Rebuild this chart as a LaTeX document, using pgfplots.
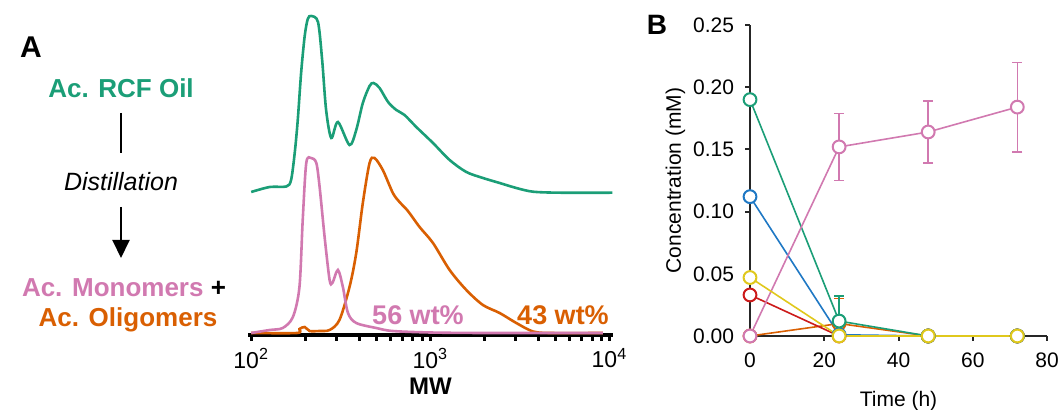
\documentclass[border=0pt]{standalone}
\usepackage{fontspec}
\setmainfont{Liberation Sans}
\usepackage{pgfplots}
\pgfplotsset{compat=1.18}
\usetikzlibrary{arrows.meta}

\definecolor{cgreen}{HTML}{1B9E77}
\definecolor{corange}{HTML}{D95F02}
\definecolor{cpink}{HTML}{D179B0}
\definecolor{cblue}{HTML}{1F78C4}
\definecolor{cred}{HTML}{CC1A1A}
\definecolor{cyellow}{HTML}{E0C81C}

\begin{document}
\begin{tikzpicture}
\useasboundingbox (0,0) rectangle (529pt,205pt);

% left-hand scheme
\node[font=\fontsize{15}{15}\selectfont\bfseries] at (15.5pt,181.5pt) {A};
\node[font=\fontsize{13}{13}\selectfont\bfseries, text=cgreen] at (60.5pt,161pt) {Ac. RCF Oil};
\draw[line width=1pt] (60.5pt,148.5pt) -- (60.5pt,128.5pt);
\node[font=\fontsize{12.5}{13}\selectfont\itshape] at (60.5pt,114pt) {Distillation};
\draw[line width=1pt, -{Triangle[width=8.5pt,length=9pt]}] (60.5pt,101.5pt) -- (60.5pt,76pt);
\node[font=\fontsize{13}{13}\selectfont\bfseries] at (62pt,61pt) {\textcolor{cpink}{Ac. Monomers} +};
\node[font=\fontsize{13}{13}\selectfont\bfseries, text=corange] at (64pt,45pt) {Ac. Oligomers};

% panel A: GPC traces
\begin{axis}[
  scale only axis,
  at={(124pt,37.5pt)}, anchor=south west,
  width=182.5pt, height=161pt,
  xmode=log, xmin=96, xmax=10470, ymin=-2, ymax=320,
  axis x line*=bottom, hide y axis,
  axis line style={line width=2pt, black},
  xtick={100,1000,10000},
  xticklabels={10\textsuperscript{2},10\textsuperscript{3},10\textsuperscript{4}},
  minor xtick={200,300,400,500,600,700,800,900,2000,3000,4000,5000,6000,7000,8000,9000},
  tick align=outside, major tick length=3pt, minor tick length=3pt,
  tick style={line width=1.5pt, black},
  xticklabel style={font=\fontsize{11.5}{12}\selectfont},
  xlabel={MW},
  xlabel style={font=\fontsize{12}{12}\selectfont\bfseries, yshift=2pt},
  clip=false,
]
\addplot[cgreen, line width=1.3pt, smooth] coordinates {
  (100,141) (127,146) (157,146.5) (167,153) (175,180) (182,213) (190,260)
  (199,297) (207,314) (216,317) (236,311) (249,273) (262,223) (280,195)
  (305,211) (354,188) (386,203) (420,230) (458,247) (482,250) (521,245)
  (581,231) (646,223) (718,218) (835,206) (1035,190) (1282,173) (1589,161)
  (1967,155) (2438,150) (3020,145) (3742,141.3) (5272,140.3) (10400,140.3)
};
\addplot[corange, line width=1.3pt, smooth] coordinates {
  (100,0) (180,0) (186,4) (199,6) (212,2) (240,2) (274,3) (311,13) (354,46)
  (386,80) (420,130) (458,170) (488,175) (543,163) (618,140) (673,131)
  (750,122) (871,106) (1035,90) (1282,63) (1589,43) (1967,28) (2438,20)
  (3020,10) (3742,1.5) (4643,0) (9200,0)
};
\addplot[cpink, line width=1.3pt, smooth] coordinates {
  (100,0) (127,3) (150,5) (171,16) (186,46) (194,113) (203,170) (216,175)
  (231,170) (241,146) (257,96) (274,53) (284,50) (305,63) (325,46) (347,20)
  (386,10) (499,5) (615,2) (1000,0.5) (2000,0) (9200,0)
};
\end{axis}

\node[font=\fontsize{13.5}{14}\selectfont\bfseries, text=cpink] at (209pt,47.5pt) {56 wt\%};
\node[font=\fontsize{13.5}{14}\selectfont\bfseries, text=corange] at (281.5pt,47.5pt) {43 wt\%};

% panel B: concentration vs time
\node[font=\fontsize{14}{14}\selectfont\bfseries] at (328.5pt,192.5pt) {B};
\begin{axis}[
  scale only axis,
  at={(375pt,37pt)}, anchor=south west,
  width=148.5pt, height=155.5pt,
  xmin=0, xmax=80, ymin=0, ymax=0.25,
  axis x line*=bottom, axis y line*=left,
  axis line style={line width=1pt, black!85},
  xtick={0,20,40,60,80},
  ytick={0,0.05,0.10,0.15,0.20,0.25},
  /pgf/number format/assume math mode=true,
  yticklabel style={xshift=-2pt, /pgf/number format/.cd, fixed, fixed zerofill, precision=2},
  xticklabel style={yshift=-2.5pt},
  tick align=outside, major tick length=2.5pt,
  tick style={line width=1pt, black!85},
  ticklabel style={font=\fontsize{10.5}{11}\selectfont},
  xlabel={Time (h)}, ylabel={Concentration (mM)},
  label style={font=\fontsize{10.5}{11}\selectfont},
  xlabel style={yshift=-5pt},
  ylabel style={yshift=-3pt},
  clip=false,
  every axis plot/.append style={line width=0.8pt, mark=*, mark size=3.2pt},
]
\addplot[corange, mark options={fill=white, draw=corange, line width=1pt},
  error bars/.cd, y dir=plus, y explicit,
  error bar style={line width=0.8pt, corange},
  error mark options={rotate=90, mark size=2.5pt, line width=0.8pt, corange}]
  table[x=t, y=c, y error=e] {
    t c e
    0 0 0
    24 0.010 0.020
    48 0 0
    72 0 0
  };
\addplot[cred, mark options={fill=white, draw=cred, line width=1pt}] table[x=t, y=c] {
    t c
    0 0.033
    24 0
    48 0
    72 0
  };
\addplot[cblue, mark options={fill=white, draw=cblue, line width=1pt}] table[x=t, y=c] {
    t c
    0 0.112
    24 0.001
    48 0
    72 0
  };
\addplot[cgreen, mark options={fill=white, draw=cgreen, line width=1pt},
  error bars/.cd, y dir=plus, y explicit,
  error bar style={line width=0.8pt, cgreen},
  error mark options={rotate=90, mark size=2.5pt, line width=0.8pt, cgreen}]
  table[x=t, y=c, y error=e] {
    t c e
    0 0.190 0
    24 0.012 0.020
    48 0 0
    72 0 0
  };
\addplot[cpink, mark options={fill=white, draw=cpink, line width=1pt},
  error bars/.cd, y dir=both, y explicit,
  error bar style={line width=0.8pt, cpink},
  error mark options={rotate=90, mark size=2.5pt, line width=0.8pt, cpink}]
  table[x=t, y=c, y error=e] {
    t c e
    0 0 0
    24 0.152 0.027
    48 0.164 0.025
    72 0.184 0.036
  };
\addplot[cyellow, mark options={fill=white, draw=cyellow, line width=1pt}] table[x=t, y=c] {
    t c
    0 0.047
    24 0
    48 0
    72 0
  };
\end{axis}
\end{tikzpicture}
\end{document}
